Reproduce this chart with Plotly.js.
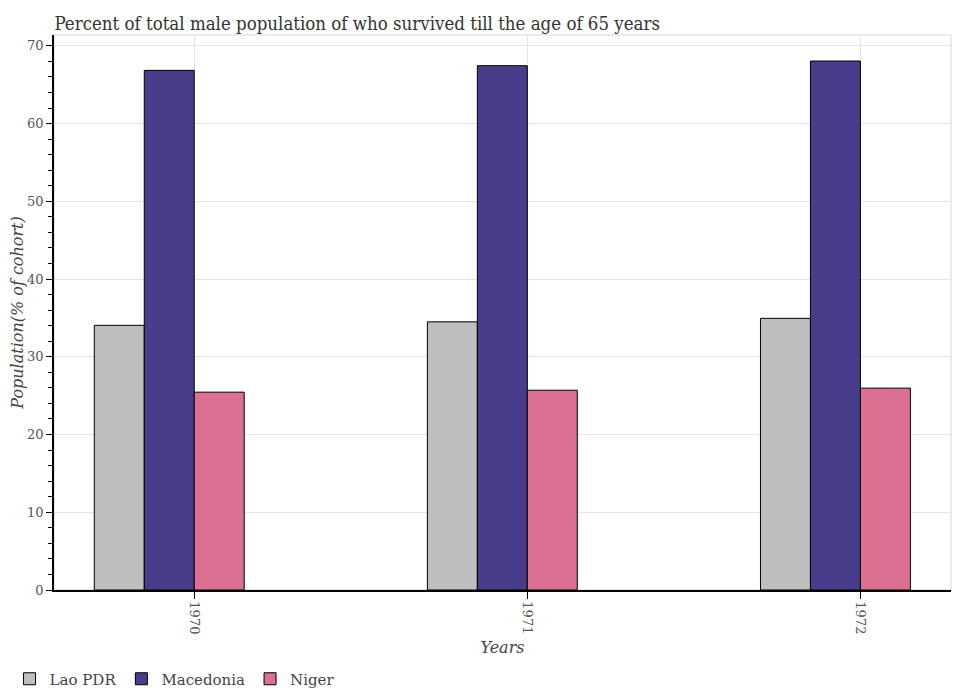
<!DOCTYPE html>
<html>
<head>
<meta charset="utf-8">
<script src="https://cdn.plot.ly/plotly-3.0.1.min.js"></script>
<style>
  html, body { margin: 0; padding: 0; background: #fff; }
  #chart { width: 956px; height: 700px; }
  /* the reference title uses a narrow serif face */
  #chart .gtitle { font-stretch: condensed; }
</style>
</head>
<body>
<div id="chart"></div>
<script>
// values
var years = ["1970", "1971", "1972"];
var laoPDR = [34.05, 34.5, 34.95];
var macedonia = [66.85, 67.45, 68.05];
var niger = [25.45, 25.7, 25.97];

var serif = "DejaVu Serif, serif";

// one bar trace per country, placed side by side left of the tick
function barTrace(name, values, color, offset) {
    return {
        x: years,
        y: values,
        name: name,
        type: "bar",
        width: 0.15,
        offset: offset,
        marker: { color: color, line: { color: "#000", width: 1 } },
        hoverinfo: "x+y+name"
    };
}

var data = [
    barTrace("Lao PDR", laoPDR, "#bebebe", -0.30),
    barTrace("Macedonia", macedonia, "#483d8b", -0.15),
    barTrace("Niger", niger, "#db7093", 0)
];

var layout = {
    width: 956,
    height: 700,
    margin: { l: 54, r: 5, t: 35, b: 110 },
    paper_bgcolor: "#fff",
    plot_bgcolor: "#fff",
    barmode: "group",
    title: {
        text: "Percent of total male population of who survived till the age of 65 years",
        font: { family: "DejaVu Serif Condensed, DejaVu Serif, serif", size: 18.5, color: "#333" },
        x: 0.057, xanchor: "left",
        y: 0.966, yanchor: "middle"
    },
    xaxis: {
        type: "category",
        range: [-0.421, 2.272],
        showline: true,
        linecolor: "#000",
        linewidth: 1.5,
        ticks: "outside",
        ticklen: 7,
        tickcolor: "#000",
        tickangle: 90,
        showgrid: true,
        gridcolor: "#e5e5e5",
        tickfont: { family: serif, size: 13, color: "#555" },
        title: {
            text: "Years",
            font: { family: serif, size: 16, color: "#444", style: "italic" },
            standoff: 8
        },
        zeroline: false
    },
    yaxis: {
        range: [0, 71.4],
        dtick: 10,
        showline: true,
        linecolor: "#000",
        linewidth: 1.5,
        ticks: "outside",
        ticklen: 6,
        tickcolor: "#000",
        minor: { dtick: 2, ticks: "outside", ticklen: 4, tickcolor: "#000", showgrid: false },
        showgrid: true,
        gridcolor: "#e5e5e5",
        tickfont: { family: serif, size: 13, color: "#555" },
        title: {
            text: "Population(% of cohort)",
            font: { family: serif, size: 16, color: "#444", style: "italic" },
            standoff: 0
        },
        zeroline: false
    },
    legend: {
        orientation: "h",
        xref: "container", yref: "container",
        x: 0.01, xanchor: "left",
        y: 0.03, yanchor: "middle",
        font: { family: serif, size: 15, color: "#444" },
        traceorder: "normal",
        itemwidth: 30
    },
    shapes: [{
        type: "rect", xref: "paper", yref: "paper",
        x0: 0, x1: 1, y0: 0, y1: 1,
        line: { color: "#e5e5e5", width: 1.5 },
        layer: "below"
    }],
    showlegend: true
};

Plotly.newPlot("chart", data, layout, { displayModeBar: false });
</script>
</body>
</html>
